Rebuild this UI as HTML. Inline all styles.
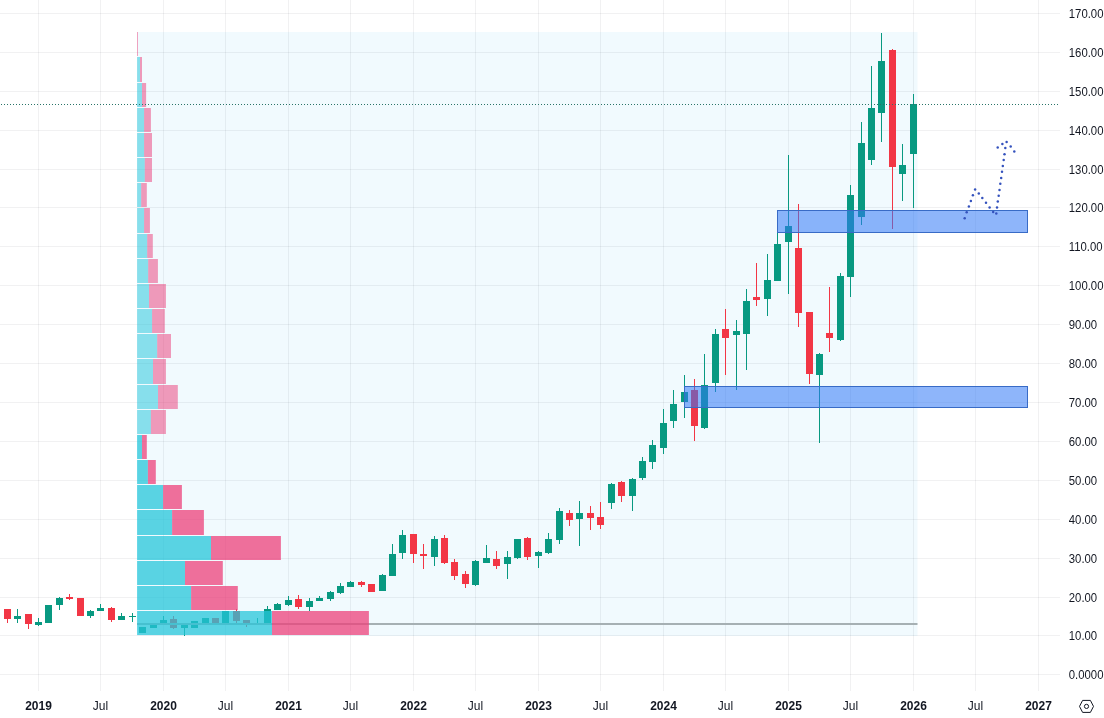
<!DOCTYPE html>
<html><head><meta charset="utf-8"><title>Chart</title>
<style>html,body{margin:0;padding:0;background:#fff;overflow:hidden}body{width:1104px;height:718px;font-family:"Liberation Sans",sans-serif}</style>
</head><body>
<svg width="1104" height="718" viewBox="0 0 1104 718" style="display:block">
<rect width="1104" height="718" fill="#ffffff"/>
<rect x="137" y="32" width="780.5" height="604" fill="#f1fafe"/>
<g stroke="#2a2e39" stroke-opacity="0.065" stroke-width="1" shape-rendering="crispEdges">
<line x1="38.5" y1="0" x2="38.5" y2="691"/>
<line x1="100.5" y1="0" x2="100.5" y2="691"/>
<line x1="163.5" y1="0" x2="163.5" y2="691"/>
<line x1="225.5" y1="0" x2="225.5" y2="691"/>
<line x1="288.5" y1="0" x2="288.5" y2="691"/>
<line x1="350.5" y1="0" x2="350.5" y2="691"/>
<line x1="413.5" y1="0" x2="413.5" y2="691"/>
<line x1="475.5" y1="0" x2="475.5" y2="691"/>
<line x1="538.5" y1="0" x2="538.5" y2="691"/>
<line x1="600.5" y1="0" x2="600.5" y2="691"/>
<line x1="663.5" y1="0" x2="663.5" y2="691"/>
<line x1="725.5" y1="0" x2="725.5" y2="691"/>
<line x1="788.5" y1="0" x2="788.5" y2="691"/>
<line x1="850.5" y1="0" x2="850.5" y2="691"/>
<line x1="913.5" y1="0" x2="913.5" y2="691"/>
<line x1="975.5" y1="0" x2="975.5" y2="691"/>
<line x1="1038.5" y1="0" x2="1038.5" y2="691"/>
<line x1="0" y1="674.5" x2="1060" y2="674.5"/>
<line x1="0" y1="635.5" x2="1060" y2="635.5"/>
<line x1="0" y1="597.5" x2="1060" y2="597.5"/>
<line x1="0" y1="558.5" x2="1060" y2="558.5"/>
<line x1="0" y1="519.5" x2="1060" y2="519.5"/>
<line x1="0" y1="480.5" x2="1060" y2="480.5"/>
<line x1="0" y1="441.5" x2="1060" y2="441.5"/>
<line x1="0" y1="402.5" x2="1060" y2="402.5"/>
<line x1="0" y1="363.5" x2="1060" y2="363.5"/>
<line x1="0" y1="324.5" x2="1060" y2="324.5"/>
<line x1="0" y1="285.5" x2="1060" y2="285.5"/>
<line x1="0" y1="246.5" x2="1060" y2="246.5"/>
<line x1="0" y1="207.5" x2="1060" y2="207.5"/>
<line x1="0" y1="169.5" x2="1060" y2="169.5"/>
<line x1="0" y1="130.5" x2="1060" y2="130.5"/>
<line x1="0" y1="91.5" x2="1060" y2="91.5"/>
<line x1="0" y1="52.5" x2="1060" y2="52.5"/>
<line x1="0" y1="13.5" x2="1060" y2="13.5"/>
</g>
<g shape-rendering="crispEdges">
<rect x="7" y="609" width="1" height="14" fill="#f23645"/>
<rect x="4" y="609" width="7" height="10" fill="#f23645"/>
<rect x="17" y="609" width="1" height="14" fill="#089981"/>
<rect x="14" y="616" width="7" height="3" fill="#089981"/>
<rect x="28" y="614" width="1" height="15" fill="#f23645"/>
<rect x="25" y="614" width="7" height="10" fill="#f23645"/>
<rect x="38" y="618" width="1" height="8" fill="#089981"/>
<rect x="35" y="622" width="7" height="3" fill="#089981"/>
<rect x="48" y="605" width="1" height="18" fill="#089981"/>
<rect x="45" y="605" width="7" height="18" fill="#089981"/>
<rect x="59" y="597" width="1" height="13" fill="#089981"/>
<rect x="56" y="598" width="7" height="7" fill="#089981"/>
<rect x="69" y="594" width="1" height="6" fill="#f23645"/>
<rect x="66" y="597" width="7" height="2" fill="#f23645"/>
<rect x="80" y="598" width="1" height="18" fill="#f23645"/>
<rect x="77" y="598" width="7" height="18" fill="#f23645"/>
<rect x="90" y="610" width="1" height="8" fill="#089981"/>
<rect x="87" y="611" width="7" height="5" fill="#089981"/>
<rect x="100" y="604" width="1" height="7" fill="#089981"/>
<rect x="97" y="608" width="7" height="3" fill="#089981"/>
<rect x="111" y="607" width="1" height="15" fill="#f23645"/>
<rect x="108" y="608" width="7" height="12" fill="#f23645"/>
<rect x="121" y="613" width="1" height="7" fill="#089981"/>
<rect x="118" y="616" width="7" height="4" fill="#089981"/>
<rect x="132" y="613" width="1" height="9" fill="#089981"/>
<rect x="129" y="616" width="7" height="1" fill="#089981"/>
<rect x="142" y="627" width="1" height="6" fill="#089981"/>
<rect x="139" y="627" width="7" height="6" fill="#089981"/>
<rect x="153" y="624" width="1" height="4" fill="#089981"/>
<rect x="150" y="624" width="7" height="4" fill="#089981"/>
<rect x="163" y="616" width="1" height="7" fill="#089981"/>
<rect x="160" y="620" width="7" height="3" fill="#089981"/>
<rect x="173" y="616" width="1" height="13" fill="#f23645"/>
<rect x="170" y="619" width="7" height="9" fill="#f23645"/>
<rect x="184" y="624" width="1" height="12" fill="#089981"/>
<rect x="181" y="624" width="7" height="4" fill="#089981"/>
<rect x="194" y="621" width="1" height="7" fill="#089981"/>
<rect x="191" y="621" width="7" height="7" fill="#089981"/>
<rect x="205" y="618" width="1" height="5" fill="#089981"/>
<rect x="202" y="618" width="7" height="5" fill="#089981"/>
<rect x="215" y="618" width="1" height="5" fill="#f23645"/>
<rect x="212" y="618" width="7" height="5" fill="#f23645"/>
<rect x="225" y="611" width="1" height="12" fill="#089981"/>
<rect x="222" y="611" width="7" height="12" fill="#089981"/>
<rect x="236" y="609" width="1" height="14" fill="#f23645"/>
<rect x="233" y="611" width="7" height="10" fill="#f23645"/>
<rect x="246" y="620" width="1" height="7" fill="#f23645"/>
<rect x="243" y="620" width="7" height="3" fill="#f23645"/>
<rect x="257" y="618" width="1" height="7" fill="#089981"/>
<rect x="254" y="623" width="7" height="1" fill="#089981"/>
<rect x="267" y="606" width="1" height="17" fill="#089981"/>
<rect x="264" y="609" width="7" height="14" fill="#089981"/>
<rect x="277" y="603" width="1" height="7" fill="#089981"/>
<rect x="274" y="604" width="7" height="6" fill="#089981"/>
<rect x="288" y="596" width="1" height="10" fill="#089981"/>
<rect x="285" y="600" width="7" height="5" fill="#089981"/>
<rect x="298" y="595" width="1" height="14" fill="#f23645"/>
<rect x="295" y="599" width="7" height="8" fill="#f23645"/>
<rect x="309" y="598" width="1" height="13" fill="#089981"/>
<rect x="306" y="601" width="7" height="6" fill="#089981"/>
<rect x="319" y="596" width="1" height="5" fill="#089981"/>
<rect x="316" y="598" width="7" height="3" fill="#089981"/>
<rect x="330" y="591" width="1" height="10" fill="#089981"/>
<rect x="327" y="592" width="7" height="7" fill="#089981"/>
<rect x="340" y="583" width="1" height="11" fill="#089981"/>
<rect x="337" y="586" width="7" height="7" fill="#089981"/>
<rect x="350" y="581" width="1" height="6" fill="#089981"/>
<rect x="347" y="582" width="7" height="5" fill="#089981"/>
<rect x="361" y="581" width="1" height="6" fill="#f23645"/>
<rect x="358" y="582" width="7" height="3" fill="#f23645"/>
<rect x="371" y="584" width="1" height="8" fill="#f23645"/>
<rect x="368" y="584" width="7" height="8" fill="#f23645"/>
<rect x="382" y="574" width="1" height="17" fill="#089981"/>
<rect x="379" y="575" width="7" height="16" fill="#089981"/>
<rect x="392" y="544" width="1" height="32" fill="#089981"/>
<rect x="389" y="554" width="7" height="22" fill="#089981"/>
<rect x="402" y="530" width="1" height="29" fill="#089981"/>
<rect x="399" y="535" width="7" height="18" fill="#089981"/>
<rect x="413" y="534" width="1" height="29" fill="#f23645"/>
<rect x="410" y="534" width="7" height="20" fill="#f23645"/>
<rect x="423" y="544" width="1" height="25" fill="#f23645"/>
<rect x="420" y="554" width="7" height="2" fill="#f23645"/>
<rect x="434" y="536" width="1" height="30" fill="#089981"/>
<rect x="431" y="539" width="7" height="18" fill="#089981"/>
<rect x="444" y="535" width="1" height="29" fill="#f23645"/>
<rect x="441" y="538" width="7" height="25" fill="#f23645"/>
<rect x="454" y="559" width="1" height="21" fill="#f23645"/>
<rect x="451" y="562" width="7" height="14" fill="#f23645"/>
<rect x="465" y="571" width="1" height="17" fill="#f23645"/>
<rect x="462" y="574" width="7" height="10" fill="#f23645"/>
<rect x="475" y="560" width="1" height="26" fill="#089981"/>
<rect x="472" y="561" width="7" height="24" fill="#089981"/>
<rect x="486" y="545" width="1" height="18" fill="#089981"/>
<rect x="483" y="558" width="7" height="5" fill="#089981"/>
<rect x="496" y="551" width="1" height="18" fill="#f23645"/>
<rect x="493" y="559" width="7" height="7" fill="#f23645"/>
<rect x="507" y="551" width="1" height="28" fill="#089981"/>
<rect x="504" y="557" width="7" height="7" fill="#089981"/>
<rect x="517" y="539" width="1" height="20" fill="#089981"/>
<rect x="514" y="539" width="7" height="19" fill="#089981"/>
<rect x="527" y="537" width="1" height="23" fill="#f23645"/>
<rect x="524" y="538" width="7" height="19" fill="#f23645"/>
<rect x="538" y="551" width="1" height="17" fill="#089981"/>
<rect x="535" y="552" width="7" height="4" fill="#089981"/>
<rect x="548" y="533" width="1" height="21" fill="#089981"/>
<rect x="545" y="539" width="7" height="14" fill="#089981"/>
<rect x="559" y="508" width="1" height="36" fill="#089981"/>
<rect x="556" y="511" width="7" height="29" fill="#089981"/>
<rect x="569" y="510" width="1" height="16" fill="#f23645"/>
<rect x="566" y="513" width="7" height="7" fill="#f23645"/>
<rect x="579" y="501" width="1" height="45" fill="#089981"/>
<rect x="576" y="513" width="7" height="6" fill="#089981"/>
<rect x="590" y="506" width="1" height="24" fill="#f23645"/>
<rect x="587" y="513" width="7" height="5" fill="#f23645"/>
<rect x="600" y="502" width="1" height="27" fill="#f23645"/>
<rect x="597" y="517" width="7" height="8" fill="#f23645"/>
<rect x="611" y="483" width="1" height="26" fill="#089981"/>
<rect x="608" y="484" width="7" height="19" fill="#089981"/>
<rect x="621" y="481" width="1" height="21" fill="#f23645"/>
<rect x="618" y="482" width="7" height="14" fill="#f23645"/>
<rect x="632" y="478" width="1" height="33" fill="#089981"/>
<rect x="629" y="479" width="7" height="17" fill="#089981"/>
<rect x="642" y="457" width="1" height="23" fill="#089981"/>
<rect x="639" y="461" width="7" height="17" fill="#089981"/>
<rect x="652" y="440" width="1" height="29" fill="#089981"/>
<rect x="649" y="445" width="7" height="17" fill="#089981"/>
<rect x="663" y="409" width="1" height="45" fill="#089981"/>
<rect x="660" y="423" width="7" height="25" fill="#089981"/>
<rect x="673" y="390" width="1" height="38" fill="#089981"/>
<rect x="670" y="404" width="7" height="17" fill="#089981"/>
<rect x="684" y="375" width="1" height="43" fill="#089981"/>
<rect x="681" y="392" width="7" height="10" fill="#089981"/>
<rect x="694" y="379" width="1" height="62" fill="#f23645"/>
<rect x="691" y="390" width="7" height="36" fill="#f23645"/>
<rect x="704" y="354" width="1" height="75" fill="#089981"/>
<rect x="701" y="385" width="7" height="43" fill="#089981"/>
<rect x="715" y="329" width="1" height="63" fill="#089981"/>
<rect x="712" y="334" width="7" height="49" fill="#089981"/>
<rect x="725" y="309" width="1" height="66" fill="#f23645"/>
<rect x="722" y="329" width="7" height="9" fill="#f23645"/>
<rect x="736" y="320" width="1" height="70" fill="#089981"/>
<rect x="733" y="331" width="7" height="4" fill="#089981"/>
<rect x="746" y="289" width="1" height="81" fill="#089981"/>
<rect x="743" y="301" width="7" height="33" fill="#089981"/>
<rect x="756" y="263" width="1" height="43" fill="#f23645"/>
<rect x="753" y="297" width="7" height="3" fill="#f23645"/>
<rect x="767" y="254" width="1" height="62" fill="#089981"/>
<rect x="764" y="280" width="7" height="19" fill="#089981"/>
<rect x="777" y="232" width="1" height="49" fill="#089981"/>
<rect x="774" y="244" width="7" height="37" fill="#089981"/>
<rect x="788" y="155" width="1" height="139" fill="#089981"/>
<rect x="785" y="226" width="7" height="16" fill="#089981"/>
<rect x="798" y="204" width="1" height="123" fill="#f23645"/>
<rect x="795" y="248" width="7" height="65" fill="#f23645"/>
<rect x="809" y="312" width="1" height="72" fill="#f23645"/>
<rect x="806" y="312" width="7" height="62" fill="#f23645"/>
<rect x="819" y="353" width="1" height="90" fill="#089981"/>
<rect x="816" y="354" width="7" height="21" fill="#089981"/>
<rect x="829" y="287" width="1" height="65" fill="#f23645"/>
<rect x="826" y="333" width="7" height="5" fill="#f23645"/>
<rect x="840" y="273" width="1" height="68" fill="#089981"/>
<rect x="837" y="276" width="7" height="64" fill="#089981"/>
<rect x="850" y="185" width="1" height="112" fill="#089981"/>
<rect x="847" y="195" width="7" height="82" fill="#089981"/>
<rect x="861" y="122" width="1" height="103" fill="#089981"/>
<rect x="858" y="143" width="7" height="74" fill="#089981"/>
<rect x="871" y="66" width="1" height="99" fill="#089981"/>
<rect x="868" y="108" width="7" height="52" fill="#089981"/>
<rect x="881" y="33" width="1" height="109" fill="#089981"/>
<rect x="878" y="61" width="7" height="52" fill="#089981"/>
<rect x="892" y="49" width="1" height="180" fill="#f23645"/>
<rect x="889" y="50" width="7" height="117" fill="#f23645"/>
<rect x="902" y="144" width="1" height="57" fill="#089981"/>
<rect x="899" y="165" width="7" height="9" fill="#089981"/>
<rect x="913" y="94" width="1" height="114" fill="#089981"/>
<rect x="910" y="104" width="7" height="50" fill="#089981"/>
</g>
<rect x="137" y="623" width="780.5" height="2" fill="#a6b0b3"/>
<rect x="137.1" y="32" width="0.00" height="24" fill="#26c6da" fill-opacity="0.52"/>
<rect x="137.10" y="32" width="0.90" height="24" fill="#ec407a" fill-opacity="0.52"/>
<rect x="137.1" y="57" width="2.90" height="25" fill="#26c6da" fill-opacity="0.52"/>
<rect x="140.00" y="57" width="2.00" height="25" fill="#ec407a" fill-opacity="0.52"/>
<rect x="137.1" y="83" width="4.90" height="24" fill="#26c6da" fill-opacity="0.52"/>
<rect x="142.00" y="83" width="4.10" height="24" fill="#ec407a" fill-opacity="0.52"/>
<rect x="137.1" y="108" width="7.00" height="24" fill="#26c6da" fill-opacity="0.52"/>
<rect x="144.10" y="108" width="6.80" height="24" fill="#ec407a" fill-opacity="0.52"/>
<rect x="137.1" y="133" width="7.00" height="24" fill="#26c6da" fill-opacity="0.52"/>
<rect x="144.10" y="133" width="7.90" height="24" fill="#ec407a" fill-opacity="0.52"/>
<rect x="137.1" y="158" width="7.70" height="24" fill="#26c6da" fill-opacity="0.52"/>
<rect x="144.80" y="158" width="7.20" height="24" fill="#ec407a" fill-opacity="0.52"/>
<rect x="137.1" y="183" width="4.10" height="24" fill="#26c6da" fill-opacity="0.52"/>
<rect x="141.20" y="183" width="5.60" height="24" fill="#ec407a" fill-opacity="0.52"/>
<rect x="137.1" y="208" width="7.00" height="25" fill="#26c6da" fill-opacity="0.52"/>
<rect x="144.10" y="208" width="5.80" height="25" fill="#ec407a" fill-opacity="0.52"/>
<rect x="137.1" y="234" width="10.10" height="24" fill="#26c6da" fill-opacity="0.52"/>
<rect x="147.20" y="234" width="5.60" height="24" fill="#ec407a" fill-opacity="0.52"/>
<rect x="137.1" y="259" width="11.10" height="24" fill="#26c6da" fill-opacity="0.52"/>
<rect x="148.20" y="259" width="9.70" height="24" fill="#ec407a" fill-opacity="0.52"/>
<rect x="137.1" y="284" width="11.90" height="24" fill="#26c6da" fill-opacity="0.52"/>
<rect x="149.00" y="284" width="16.90" height="24" fill="#ec407a" fill-opacity="0.52"/>
<rect x="137.1" y="309" width="15.00" height="24" fill="#26c6da" fill-opacity="0.52"/>
<rect x="152.10" y="309" width="12.70" height="24" fill="#ec407a" fill-opacity="0.52"/>
<rect x="137.1" y="334" width="20.10" height="24" fill="#26c6da" fill-opacity="0.52"/>
<rect x="157.20" y="334" width="13.80" height="24" fill="#ec407a" fill-opacity="0.52"/>
<rect x="137.1" y="359" width="15.90" height="25" fill="#26c6da" fill-opacity="0.52"/>
<rect x="153.00" y="359" width="12.90" height="25" fill="#ec407a" fill-opacity="0.52"/>
<rect x="137.1" y="385" width="20.90" height="24" fill="#26c6da" fill-opacity="0.52"/>
<rect x="158.00" y="385" width="19.80" height="24" fill="#ec407a" fill-opacity="0.52"/>
<rect x="137.1" y="410" width="13.80" height="24" fill="#26c6da" fill-opacity="0.52"/>
<rect x="150.90" y="410" width="15.00" height="24" fill="#ec407a" fill-opacity="0.52"/>
<rect x="137.1" y="435" width="4.90" height="24" fill="#26c6da" fill-opacity="0.75"/>
<rect x="142.00" y="435" width="4.80" height="24" fill="#ec407a" fill-opacity="0.75"/>
<rect x="137.1" y="460" width="10.80" height="24" fill="#26c6da" fill-opacity="0.75"/>
<rect x="147.90" y="460" width="7.90" height="24" fill="#ec407a" fill-opacity="0.75"/>
<rect x="137.1" y="485" width="26.00" height="24" fill="#26c6da" fill-opacity="0.75"/>
<rect x="163.10" y="485" width="18.80" height="24" fill="#ec407a" fill-opacity="0.75"/>
<rect x="137.1" y="510" width="35.00" height="25" fill="#26c6da" fill-opacity="0.75"/>
<rect x="172.10" y="510" width="31.80" height="25" fill="#ec407a" fill-opacity="0.75"/>
<rect x="137.1" y="536" width="73.90" height="24" fill="#26c6da" fill-opacity="0.75"/>
<rect x="211.00" y="536" width="69.90" height="24" fill="#ec407a" fill-opacity="0.75"/>
<rect x="137.1" y="561" width="47.90" height="24" fill="#26c6da" fill-opacity="0.75"/>
<rect x="185.00" y="561" width="37.80" height="24" fill="#ec407a" fill-opacity="0.75"/>
<rect x="137.1" y="586" width="54.00" height="24" fill="#26c6da" fill-opacity="0.75"/>
<rect x="191.10" y="586" width="46.70" height="24" fill="#ec407a" fill-opacity="0.75"/>
<rect x="137.1" y="611" width="134.90" height="24" fill="#26c6da" fill-opacity="0.75"/>
<rect x="272.00" y="611" width="96.90" height="24" fill="#ec407a" fill-opacity="0.75"/>
<line x1="1" y1="104.5" x2="1058" y2="104.5" stroke="#2a7468" stroke-width="1" stroke-dasharray="1 2" shape-rendering="crispEdges"/>
<rect x="777.5" y="210.5" width="250.0" height="22.0" fill="#3179f5" fill-opacity="0.55" stroke="#386bc6" stroke-width="1"/>
<rect x="684.5" y="386.5" width="343.0" height="21.0" fill="#3179f5" fill-opacity="0.55" stroke="#386bc6" stroke-width="1"/>
<g fill="#3452bd">
<circle cx="964.7" cy="218.3" r="1.25"/>
<circle cx="966.7" cy="212.3" r="1.25"/>
<circle cx="968.9" cy="206.6" r="1.25"/>
<circle cx="970.9" cy="201.1" r="1.25"/>
<circle cx="972.9" cy="195.2" r="1.25"/>
<circle cx="975.1" cy="189.4" r="1.25"/>
<circle cx="978.8" cy="193.5" r="1.25"/>
<circle cx="982.3" cy="198.1" r="1.25"/>
<circle cx="986.0" cy="202.7" r="1.25"/>
<circle cx="989.6" cy="207.4" r="1.25"/>
<circle cx="993.2" cy="211.9" r="1.25"/>
<circle cx="996.3" cy="213.6" r="1.25"/>
<circle cx="997.0" cy="207.4" r="1.25"/>
<circle cx="997.8" cy="201.6" r="1.25"/>
<circle cx="998.7" cy="195.7" r="1.25"/>
<circle cx="999.5" cy="189.9" r="1.25"/>
<circle cx="1000.3" cy="183.8" r="1.25"/>
<circle cx="1001.2" cy="178.0" r="1.25"/>
<circle cx="1002.0" cy="171.8" r="1.25"/>
<circle cx="1002.8" cy="166.0" r="1.25"/>
<circle cx="1003.7" cy="160.1" r="1.25"/>
<circle cx="1004.5" cy="154.2" r="1.25"/>
<circle cx="1005.3" cy="148.1" r="1.25"/>
<circle cx="997.7" cy="147.5" r="1.25"/>
<circle cx="1002.4" cy="143.9" r="1.25"/>
<circle cx="1006.6" cy="141.9" r="1.25"/>
<circle cx="1010.7" cy="146.5" r="1.25"/>
<circle cx="1014.3" cy="151.4" r="1.25"/>
</g>
<g font-family="'Liberation Sans', sans-serif" font-size="12" fill="#131722" style="opacity:0.999">
<text transform="translate(1068.8,678.8) scale(0.945,1)">0.0000</text>
<text transform="translate(1068.8,639.8) scale(0.945,1)">10.00</text>
<text transform="translate(1068.8,601.8) scale(0.945,1)">20.00</text>
<text transform="translate(1068.8,562.8) scale(0.945,1)">30.00</text>
<text transform="translate(1068.8,523.8) scale(0.945,1)">40.00</text>
<text transform="translate(1068.8,484.8) scale(0.945,1)">50.00</text>
<text transform="translate(1068.8,445.8) scale(0.945,1)">60.00</text>
<text transform="translate(1068.8,406.8) scale(0.945,1)">70.00</text>
<text transform="translate(1068.8,367.8) scale(0.945,1)">80.00</text>
<text transform="translate(1068.8,328.8) scale(0.945,1)">90.00</text>
<text transform="translate(1068.8,289.8) scale(0.945,1)">100.00</text>
<text transform="translate(1068.8,250.8) scale(0.945,1)">110.00</text>
<text transform="translate(1068.8,211.8) scale(0.945,1)">120.00</text>
<text transform="translate(1068.8,173.8) scale(0.945,1)">130.00</text>
<text transform="translate(1068.8,134.8) scale(0.945,1)">140.00</text>
<text transform="translate(1068.8,95.8) scale(0.945,1)">150.00</text>
<text transform="translate(1068.8,56.8) scale(0.945,1)">160.00</text>
<text transform="translate(1068.8,17.8) scale(0.945,1)">170.00</text>
<text x="38.5" y="710" text-anchor="middle" font-weight="bold">2019</text>
<text x="100.5" y="710" text-anchor="middle">Jul</text>
<text x="163.5" y="710" text-anchor="middle" font-weight="bold">2020</text>
<text x="225.5" y="710" text-anchor="middle">Jul</text>
<text x="288.5" y="710" text-anchor="middle" font-weight="bold">2021</text>
<text x="350.5" y="710" text-anchor="middle">Jul</text>
<text x="413.5" y="710" text-anchor="middle" font-weight="bold">2022</text>
<text x="475.5" y="710" text-anchor="middle">Jul</text>
<text x="538.5" y="710" text-anchor="middle" font-weight="bold">2023</text>
<text x="600.5" y="710" text-anchor="middle">Jul</text>
<text x="663.5" y="710" text-anchor="middle" font-weight="bold">2024</text>
<text x="725.5" y="710" text-anchor="middle">Jul</text>
<text x="788.5" y="710" text-anchor="middle" font-weight="bold">2025</text>
<text x="850.5" y="710" text-anchor="middle">Jul</text>
<text x="913.5" y="710" text-anchor="middle" font-weight="bold">2026</text>
<text x="975.5" y="710" text-anchor="middle">Jul</text>
<text x="1038.5" y="710" text-anchor="middle" font-weight="bold">2027</text>
</g>
<g fill="none" stroke="#131722" stroke-width="1.0">
<path d="M1079.5 706.4 L1082.6 700.4 L1090.4 700.4 L1093.5 706.4 L1090.4 712.4 L1082.6 712.4 Z"/>
<circle cx="1086.5" cy="706.4" r="2.1"/>
</g>
</svg>
</body></html>
